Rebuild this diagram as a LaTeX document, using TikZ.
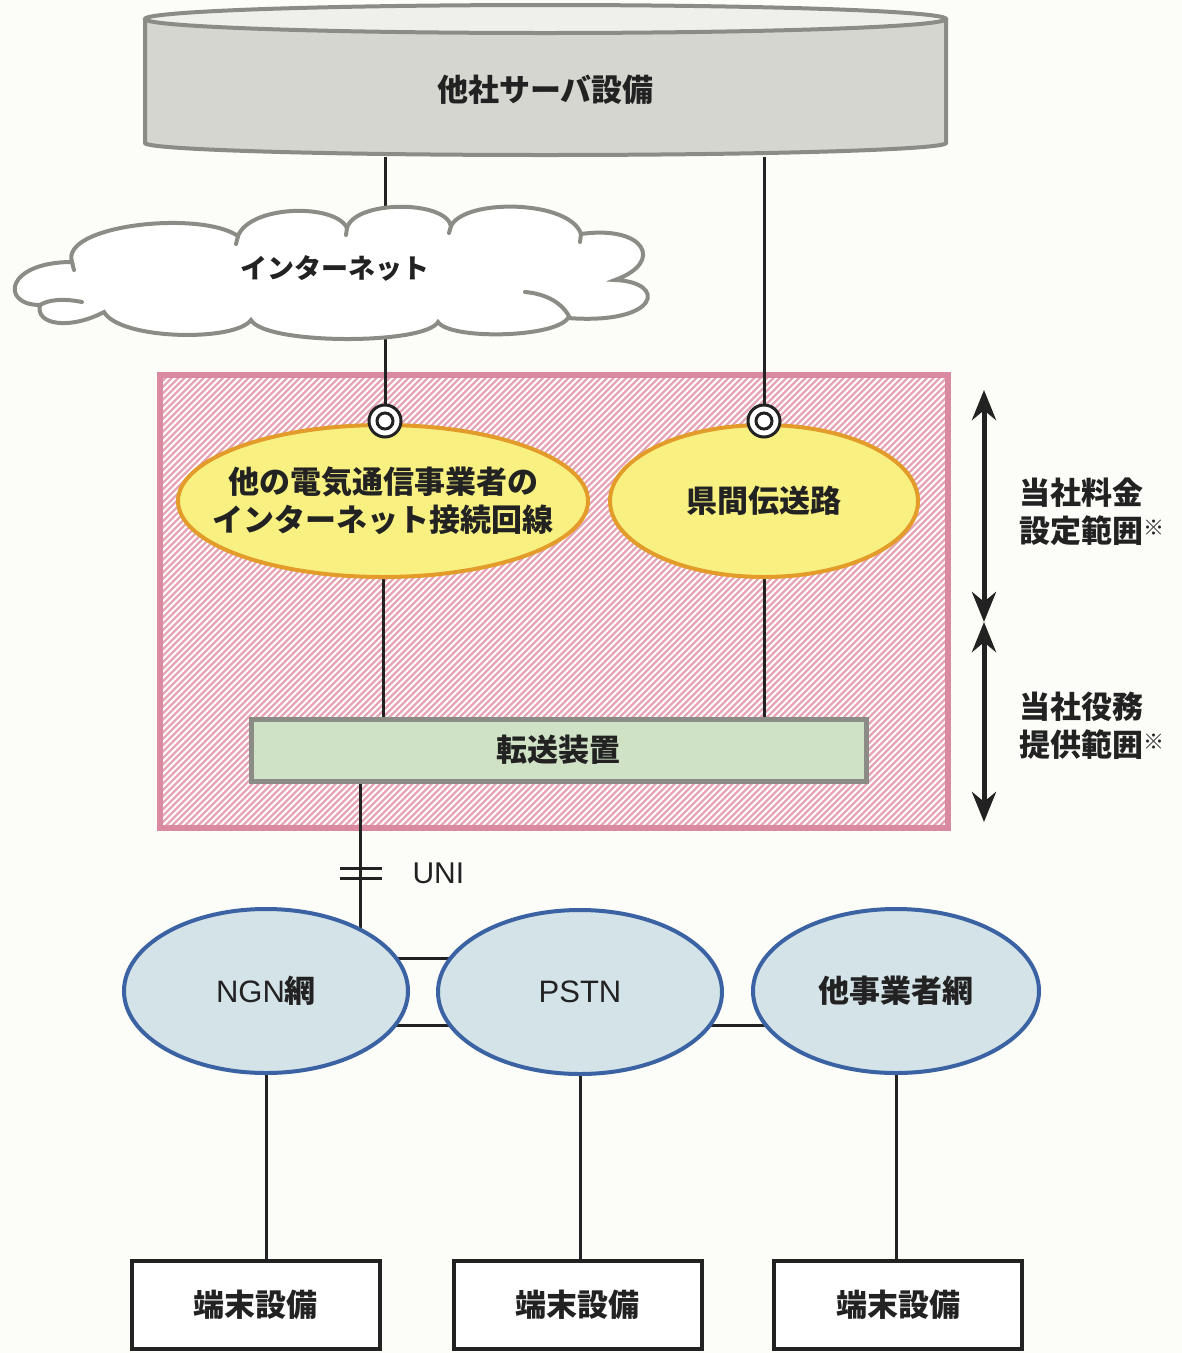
\documentclass[tikz,border=0pt]{standalone}
\usepackage{fontspec}
\newfontfamily\cjk{Noto Sans CJK JP}
\newfontfamily\lat{Liberation Sans}
\usetikzlibrary{arrows.meta,shapes.geometric}
\definecolor{paper}{HTML}{FCFCF9}
\definecolor{cylF}{HTML}{D6D6D1}
\definecolor{cylT}{HTML}{EFEFEB}
\definecolor{grayB}{HTML}{8C8C87}
\definecolor{pinkB}{HTML}{D98AA0}
\definecolor{pinkH}{HTML}{E6A5B5}
\definecolor{yelF}{HTML}{F8F181}
\definecolor{yelB}{HTML}{E39B2A}
\definecolor{grnF}{HTML}{D0E2C6}
\definecolor{bluF}{HTML}{D4E3E7}
\definecolor{bluB}{HTML}{3B63A3}
\definecolor{ink}{HTML}{222222}
\pgfdeclarelayer{back}
\pgfdeclarelayer{wires}
\pgfsetlayers{back,wires,main}
\tikzset{
  jp/.style={font=\cjk\bfseries\fontsize{31}{38}\selectfont, text=ink},
  conn/.style={draw=ink, line width=3pt},
  yel/.style={ellipse, draw=yelB, fill=yelF, line width=4pt, inner sep=0pt},
  blu/.style={ellipse, draw=bluB, fill=bluF, line width=4pt, inner sep=0pt},
  term/.style={rectangle, draw=ink, fill=white, line width=4pt, minimum width=248pt, minimum height=88pt, jp},
  ring/.style={circle, draw=ink, fill=white, line width=3pt, minimum size=32pt, inner sep=0pt},
  span/.style={draw=ink, line width=5pt, {Stealth[length=30pt,width=24pt]}-{Stealth[length=30pt,width=24pt]}},
  cloudline/.style={draw=grayB, line width=4pt, line cap=round},
  hatchline/.style={draw=pinkH, line width=2.3pt}
}
\begin{document}
\begin{tikzpicture}[x=1pt,y=-1pt]
\useasboundingbox (0,0) rectangle (1182,1353);
\begin{pgfonlayer}{back}
\fill[paper] (0,0) rectangle (1182,1353);
% hatched area
\fill[white] (160,375) rectangle (948,828);
\begin{scope}
\clip (160,375) rectangle (948,828);
\foreach \i in {0,...,196} {
  \draw[hatchline] (-293+\i*6.4,830) -- ++(456,-456);
}
\end{scope}
\draw[pinkB, line width=6pt] (160,375) rectangle (948,828);
\end{pgfonlayer}

% server cylinder
\fill[cylF] (145,18) -- (145,143) .. controls (145,149.6) and (324.3,155) .. (545.5,155)
  .. controls (766.7,155) and (946,149.6) .. (946,143) -- (946,18) -- cycle;
\draw[grayB, line width=4pt] (145,18) -- (145,143) .. controls (145,149.6) and (324.3,155) .. (545.5,155)
  .. controls (766.7,155) and (946,149.6) .. (946,143) -- (946,18);
\draw[grayB, fill=cylT, line width=4pt] (545.5,19) ellipse [x radius=400.5, y radius=14];
\node[jp] (srv) at (545.5,90) {他社サーバ設備};
\coordinate (srvL) at (385,157);
\coordinate (srvR) at (764,157);

% cloud
\draw[cloudline, fill=white]
  (40,305) .. controls (0,305) and (5,262) .. (72,262)
  .. controls (60,225) and (200,210) .. (238,236)
  .. controls (250,205) and (335,203) .. (347,228)
  .. controls (355,200) and (445,200) .. (451,226)
  .. controls (465,198) and (570,200) .. (581,234)
  .. controls (645,225) and (665,262) .. (615,280)
  .. controls (668,282) and (660,325) .. (568,318)
  .. controls (555,338) and (450,340) .. (438,322)
  .. controls (425,345) and (265,345) .. (251,320)
  .. controls (235,342) and (120,340) .. (104,312)
  .. controls (70,330) and (35,325) .. (40,305) -- cycle;
\draw[cloudline] (525,292) .. controls (548,294) and (563,304) .. (570,318);
\draw[cloudline] (82,302) .. controls (62,298) and (48,300) .. (40,305);
\draw[cloudline] (72,262) -- (74,270);
\draw[cloudline] (238,236) -- (236,244);
\draw[cloudline] (347,228) -- (346,235);
\draw[cloudline] (451,226) -- (449,233);
\draw[cloudline] (581,234) -- (580,242);
\node[font=\cjk\bfseries\fontsize{27}{34}\selectfont, text=ink] (net) at (335,268) {インターネット};
\coordinate (netT) at (385,209);
\coordinate (netB) at (385,334);

% yellow ellipses
\node[yel, minimum width=410pt, minimum height=152pt] (e1) at (383,501) {};
\node[jp, align=center] (e1t) at (e1.center) {他の電気通信事業者の\\インターネット接続回線};
\node[yel, minimum width=308pt, minimum height=152pt] (e2) at (764,501) {};
\node[jp] (e2t) at (e2.center) {県間伝送路};
\node[ring] (r1) at (385,421) {};
\node[ring] (r2) at (764,421) {};
\draw[ink, line width=3pt] (r1.center) circle (8);
\draw[ink, line width=3pt] (r2.center) circle (8);

% transfer equipment
\node[jp, rectangle, draw=grayB, fill=grnF, line width=5pt, minimum width=615pt, minimum height=62pt]
  (fwd) at (558.5,750) {転送装置};

% networks
\node[blu, minimum width=284pt, minimum height=164pt] (ngn) at (266,991) {};
\node[jp] (ngnt) at (ngn.center) {{\lat\mdseries NGN}網};
\node[blu, minimum width=284pt, minimum height=164pt] (pstn) at (580,992) {};
\node[jp] (pstnt) at (pstn.center) {{\lat\mdseries PSTN}};
\node[blu, minimum width=286pt, minimum height=164pt] (oth) at (896,991) {};
\node[jp] (otht) at (oth.center) {他事業者網};

% terminals
\node[term] (t1) at (255.5,1305) {端末設備};
\node[term] (t2) at (577.5,1305) {端末設備};
\node[term] (t3) at (898,1305) {端末設備};

% UNI
\coordinate (uniA) at (360,784);
\coordinate (uniB) at (360,935);
\coordinate (uniL) at (340,868);
\coordinate (uniR) at (382,868);
\draw[conn] (uniL) -- (uniR);
\draw[conn] ([yshift=-10pt]uniL) -- ([yshift=-10pt]uniR);
\node[font=\lat\fontsize{30}{36}\selectfont, text=ink, anchor=west] (uni) at (409,873) {UNI};

\begin{pgfonlayer}{wires}
\draw[conn] (srvL) -- (netT);
\draw[conn] (netB) -- (r1);
\draw[conn] (srvR) -- (r2);
\draw[conn] (e1.south) -- (e1.south |- fwd.north);
\draw[conn] (e2.south) -- (e2.south |- fwd.north);
\draw[conn] (uniA) -- (uniB);
\draw[conn] (ngn.center |- 0,958) -- (pstn.center |- 0,958);
\draw[conn] (ngn.center |- 0,1025) -- (pstn.center |- 0,1025);
\draw[conn] (pstn.center |- 0,1025) -- (oth.center |- 0,1025);
\draw[conn] (ngn.south) -- (ngn.south |- t1.north);
\draw[conn] (pstn.south) -- (pstn.south |- t2.north);
\draw[conn] (oth.south) -- (oth.south |- t3.north);
\end{pgfonlayer}

% scope arrows
\coordinate (aTop) at (984,390);
\coordinate (aMid) at (984,622);
\coordinate (aBot) at (984,822);
\draw[span] (aTop) -- (aMid);
\draw[span] (aMid) -- (aBot);
\node[jp, anchor=west, align=left] (lab1) at (1016,512)
  {当社料金\\設定範囲{\fontsize{21}{21}\selectfont\raisebox{7pt}{※}}};
\node[jp, anchor=west, align=left] (lab2) at (1016,726)
  {当社役務\\提供範囲{\fontsize{21}{21}\selectfont\raisebox{7pt}{※}}};
\end{tikzpicture}
\end{document}
